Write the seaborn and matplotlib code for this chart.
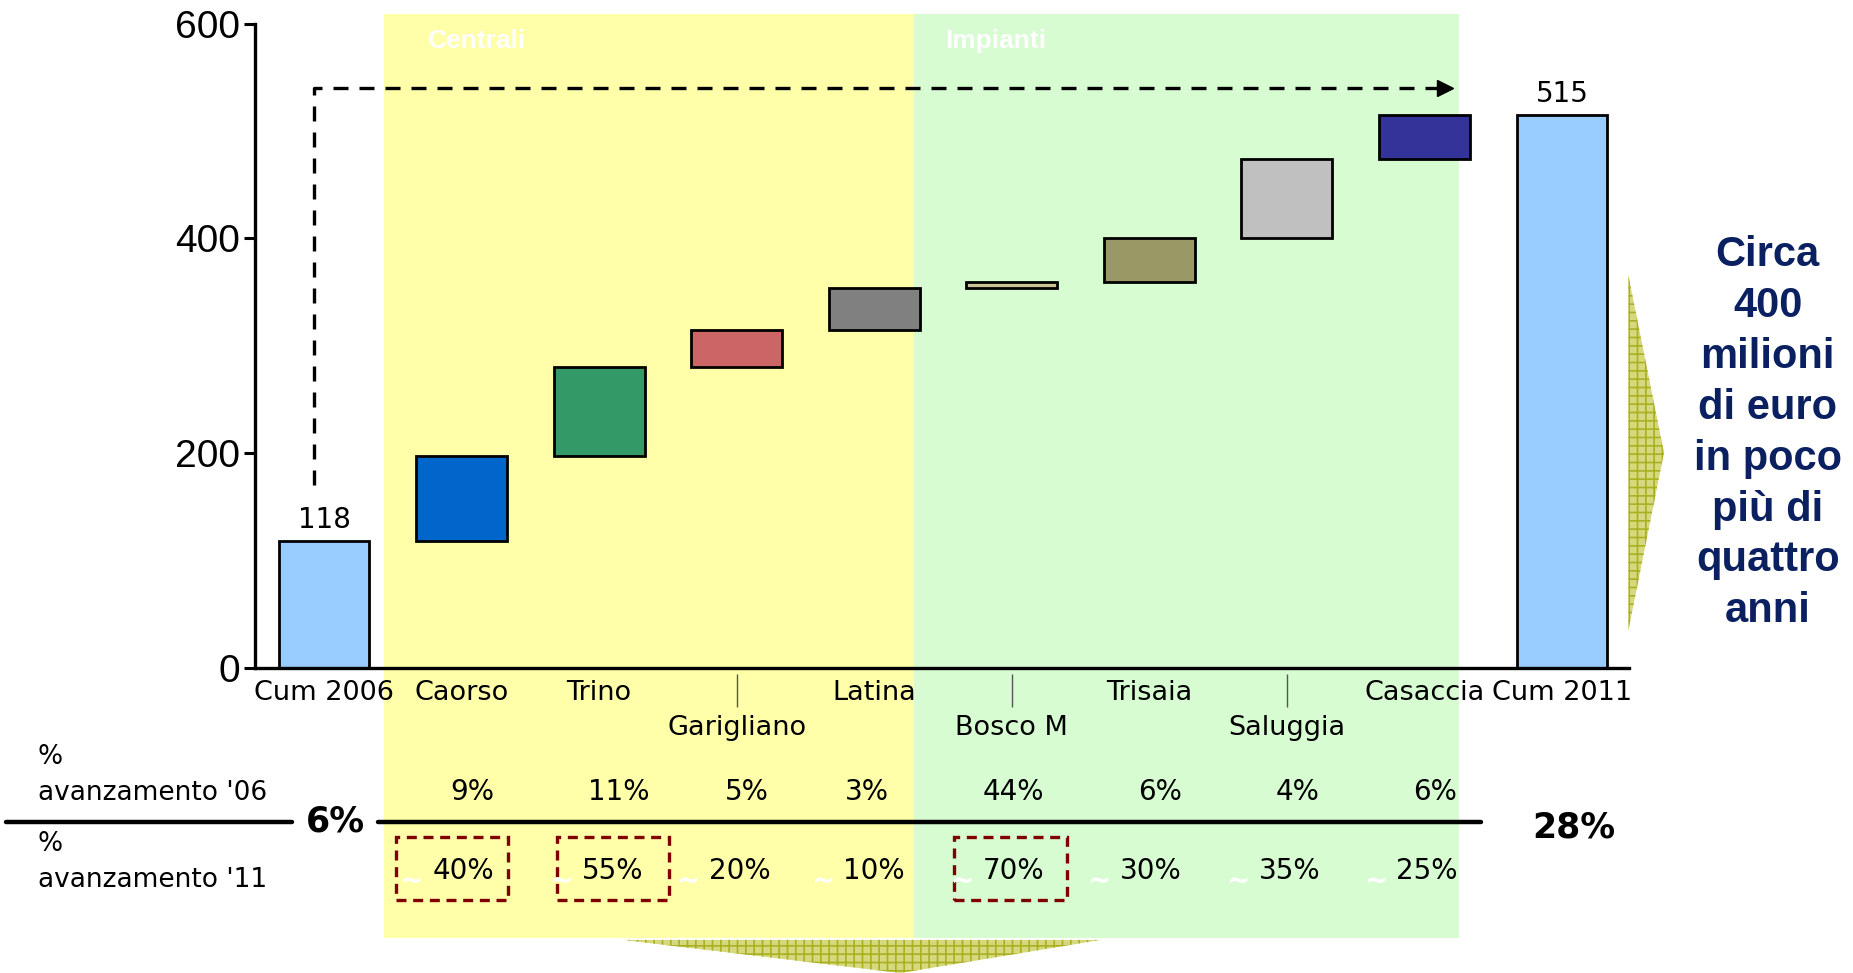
import numpy as np
import pandas as pd
import matplotlib
matplotlib.use('Agg')
import matplotlib.pyplot as plt
import seaborn as sns
from matplotlib.patches import Rectangle, Polygon
from matplotlib.lines import Line2D
from matplotlib import transforms

# --- data ---
categories = ['Cum 2006', 'Caorso', 'Trino', 'Garigliano', 'Latina',
              'Bosco M', 'Trisaia', 'Saluggia', 'Casaccia', 'Cum 2011']
start_total = 118
steps = [79, 83, 35, 39, 5, 41, 74, 41]
end_total = 515
bar_colors = ['#99ccff', '#0066cc', '#339966', '#cc6666', '#808080',
              '#cbc296', '#999966', '#c0c0c0', '#333399', '#99ccff']
lower_labels = ['Garigliano', 'Bosco M', 'Saluggia']

sites = categories[1:-1]
pct_06 = ['9%', '11%', '5%', '3%', '44%', '6%', '4%', '6%']
pct_11 = ['40%', '55%', '20%', '10%', '70%', '30%', '35%', '25%']
highlighted = ['Caorso', 'Trino', 'Bosco M']
total_06 = '6%'
total_11 = '28%'
note = 'Circa\n400\nmilioni\ndi euro\nin poco\npiù di\nquattro\nanni'

# small horizontal nudges of the table cells, as laid out in the reference
shift_06 = [0.08, 0.14, 0.07, -0.05, 0.01, 0.08, 0.08, 0.08]
shift_11 = [0.01, 0.10, 0.02, 0.00, 0.01, 0.01, 0.02, 0.02]
box_shift = {'Caorso': -0.07, 'Trino': 0.10, 'Bosco M': -0.01}

heights = [start_total] + steps + [end_total]
bases = [0] + list(np.cumsum([start_total] + steps[:-1])) + [0]

sns.set_theme(style='ticks')
plt.rcParams['font.family'] = ['DejaVu Sans']
plt.rcParams['text.color'] = 'black'
plt.rcParams['hatch.linewidth'] = 1.2
arial = ['Liberation Sans', 'DejaVu Sans']

fig = plt.figure(figsize=(18.53, 9.73), dpi=100)
ax = fig.add_axes([0.1378, 0.3135, 0.7411, 0.6622])
ax.set_facecolor('none')

# background bands behind the chart and the table
fig.add_artist(Rectangle((0.2073, 0.0364), 0.2857, 0.9490, transform=fig.transFigure,
                         facecolor='#ffffaa', edgecolor='none', zorder=-5))
fig.add_artist(Rectangle((0.4930, 0.0364), 0.2946, 0.9490, transform=fig.transFigure,
                         facecolor='#d8fcd2', edgecolor='none', zorder=-5))
fig.text(0.2309, 0.9575, 'Centrali', color='white', fontsize=19, fontweight='bold',
         family=arial, va='center')
fig.text(0.5102, 0.9575, 'Impianti', color='white', fontsize=19, fontweight='bold',
         family=arial, va='center')

# waterfall bars
df = pd.DataFrame({'category': categories, 'height': heights})
sns.barplot(data=df, x='category', y='height', hue='category', palette=bar_colors,
            legend=False, width=0.66, edgecolor='black', linewidth=2,
            errorbar=None, saturation=1, ax=ax)
for patch, base in zip(ax.patches, bases):
    patch.set_y(base)

for i in (0, len(categories) - 1):
    ax.annotate(str(heights[i]), (i, heights[i]), xytext=(0, 5),
                textcoords='offset points', ha='center', va='bottom', fontsize=20)

# dashed arrow from the first total to the last step
ax.plot([-0.073, -0.073, 8.12], [170, 540, 540], color='black', lw=2.4,
        ls=(0, (4.5, 3.3)), clip_on=False, zorder=3)
ax.plot([8.15], [540], marker='>', markersize=11, color='black', clip_on=False, zorder=3)

ax.set_xlim(-0.5, 9.485)
ax.set_ylim(0, 600)
ax.set_yticks([0, 200, 400, 600])
ax.set_xticks(range(len(categories)))
ax.set_xticklabels(['\n' + c if c in lower_labels else c for c in categories],
                   fontsize=19.5, linespacing=1.45)
ax.set_xlabel('')
ax.set_ylabel('')
sns.despine(ax=ax)
for s in ('left', 'bottom'):
    ax.spines[s].set_linewidth(2.4)
    ax.spines[s].set_color('black')
ax.tick_params(axis='y', length=8, width=2.2, pad=3, labelsize=28, color='black',
               labelcolor='black')
for lab in ax.get_yticklabels():
    lab.set_family(arial)
ax.tick_params(axis='x', length=0, pad=9, labelcolor='black')
ax.vlines([categories.index(c) for c in lower_labels], -0.009, -0.06,
          transform=ax.get_xaxis_transform(), colors='#555555', lw=1, clip_on=False)

# progress table under the chart
trans = transforms.blended_transform_factory(ax.transData, fig.transFigure)
fig.text(0.0204, 0.204, "%\navanzamento '06", fontsize=19, va='center', linespacing=1.5)
fig.text(0.0204, 0.114, "%\navanzamento '11", fontsize=19, va='center', linespacing=1.5)
fig.add_artist(Line2D([0.003, 0.1575], [0.1555, 0.1555], transform=fig.transFigure,
                      color='black', lw=3.2))
fig.add_artist(Line2D([0.204, 0.799], [0.1555, 0.1555], transform=fig.transFigure,
                      color='black', lw=3.2))
fig.text(0.1811, 0.1555, total_06, fontsize=25, fontweight='bold', ha='center', va='center')
fig.text(0.8495, 0.1495, total_11, fontsize=25, fontweight='bold', ha='center', va='center')

for k, (name, p06, p11) in enumerate(zip(sites, pct_06, pct_11)):
    i = categories.index(name)
    ax.text(i + shift_06[k], 0.186, p06, transform=trans, ha='center', va='center',
            fontsize=20)
    ax.text(i + shift_11[k], 0.1045, p11, transform=trans, ha='center', va='center',
            fontsize=20)
    ax.text(i + shift_11[k] - 0.37, 0.094, '~', transform=trans, ha='center',
            va='center', fontsize=20, fontweight='bold', color='white')
    if name in highlighted:
        ax.add_artist(Rectangle((i + box_shift[name] - 0.41, 0.0753), 0.82, 0.0644,
                                transform=trans, fill=False, ls=(0, (3, 2)),
                                ec='#800000', lw=2.4, clip_on=False))

# chevrons and side note
chevron_style = dict(closed=True, transform=fig.transFigure, facecolor='#d6d87e',
                     edgecolor='#a9b122', linewidth=0, hatch='++')
fig.add_artist(Polygon([(0.8788, 0.7169), (0.8980, 0.5346), (0.8788, 0.3524)],
                       **chevron_style))
fig.add_artist(Polygon([(0.336, 0.034), (0.594, 0.034), (0.486, 0.0)],
                       **chevron_style))
fig.text(0.954, 0.5547, note, fontsize=30, fontweight='bold', color='#0a2060',
         family=arial, ha='center', va='center', linespacing=1.35)

fig.savefig('out.png', dpi=100)
